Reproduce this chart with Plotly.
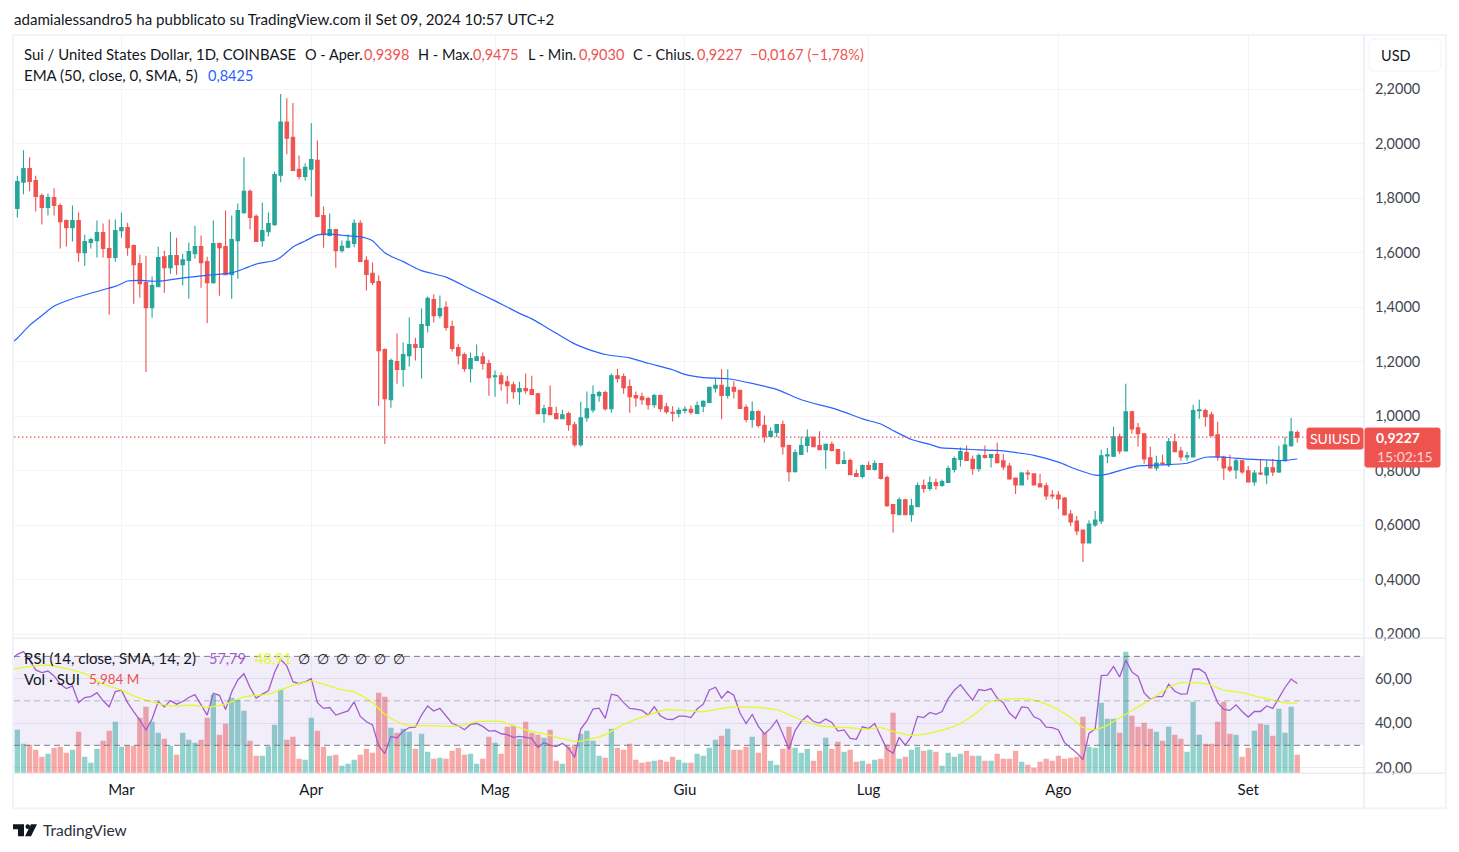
import pandas as pd
import plotly.graph_objects as go

# page is 1459x852, browser body keeps its 8px margin
W, H = 1443, 832
STRETCH = 1.005  # the photographed page comes out a touch short
FONT = "Lato"
GREEN, RED = "#26a69a", "#ef5350"
TEXT = "#131722"

start = pd.Timestamp("2024-02-13")
dates = pd.date_range(start, "2024-09-09")
x_left, x_right = "2024-02-12 10:52", "2024-09-19 21:36"

opens = [
    1.762, 1.859, 1.909, 1.865, 1.810, 1.766, 1.802, 1.773, 1.718, 1.692,
    1.718, 1.600, 1.637, 1.644, 1.674, 1.615, 1.582, 1.681, 1.692, 1.626,
    1.560, 1.490, 1.398, 1.475, 1.585, 1.545, 1.589, 1.556, 1.571, 1.596,
    1.622, 1.567, 1.490, 1.633, 1.622, 1.519, 1.644, 1.747, 1.825, 1.733,
    1.644, 1.677, 1.703, 1.884, 2.079, 2.023, 1.906, 1.880, 1.906, 1.939,
    1.736, 1.663, 1.685, 1.607, 1.620, 1.634, 1.708, 1.572, 1.524, 1.494,
    1.244, 1.060, 1.200, 1.171, 1.222, 1.263, 1.252, 1.333, 1.428, 1.369,
    1.399, 1.329, 1.252, 1.226, 1.174, 1.204, 1.218, 1.193, 1.145, 1.148,
    1.126, 1.115, 1.090, 1.101, 1.097, 1.082, 1.009, 1.031, 1.009, 0.990,
    1.009, 0.968, 0.895, 0.994, 1.023, 1.075, 1.086, 1.027, 1.148, 1.145,
    1.108, 1.075, 1.071, 1.064, 1.042, 1.075, 1.034, 1.014, 1.010, 1.021,
    1.025, 1.010, 1.036, 1.050, 1.102, 1.113, 1.076, 1.106, 1.095, 1.032,
    0.988, 1.017, 0.966, 0.925, 0.940, 0.969, 0.892, 0.796, 0.859, 0.892,
    0.922, 0.892, 0.877, 0.896, 0.877, 0.826, 0.837, 0.789, 0.778, 0.818,
    0.804, 0.826, 0.774, 0.675, 0.638, 0.693, 0.638, 0.667, 0.745, 0.734,
    0.756, 0.745, 0.756, 0.804, 0.841, 0.866, 0.841, 0.807, 0.855, 0.848,
    0.859, 0.836, 0.817, 0.773, 0.747, 0.791, 0.788, 0.751, 0.744, 0.710,
    0.710, 0.699, 0.640, 0.615, 0.582, 0.534, 0.600, 0.615, 0.854, 0.853,
    0.924, 0.872, 1.016, 0.957, 0.935, 0.847, 0.810, 0.828, 0.821, 0.906,
    0.872, 0.850, 0.850, 1.020, 1.020, 1.005, 0.931, 0.850, 0.813, 0.802,
    0.836, 0.799, 0.758, 0.791, 0.784, 0.810, 0.795, 0.836, 0.891, 0.9398,
]
highs = [
    1.882, 1.976, 1.950, 1.882, 1.817, 1.817, 1.836, 1.780, 1.722, 1.773,
    1.747, 1.666, 1.655, 1.718, 1.707, 1.722, 1.722, 1.747, 1.710, 1.630,
    1.593, 1.589, 1.512, 1.622, 1.607, 1.677, 1.655, 1.596, 1.637, 1.699,
    1.663, 1.585, 1.718, 1.637, 1.755, 1.736, 1.780, 1.950, 1.832, 1.740,
    1.784, 1.747, 1.898, 2.182, 2.167, 2.149, 1.957, 1.928, 2.075, 2.012,
    1.769, 1.744, 1.685, 1.645, 1.667, 1.723, 1.719, 1.587, 1.564, 1.517,
    1.248, 1.211, 1.303, 1.270, 1.362, 1.288, 1.395, 1.439, 1.447, 1.443,
    1.421, 1.351, 1.266, 1.233, 1.233, 1.263, 1.233, 1.207, 1.167, 1.160,
    1.148, 1.126, 1.126, 1.156, 1.148, 1.086, 1.042, 1.112, 1.034, 1.023,
    1.016, 0.979, 1.053, 1.090, 1.112, 1.093, 1.093, 1.156, 1.174, 1.156,
    1.134, 1.090, 1.086, 1.071, 1.082, 1.079, 1.049, 1.036, 1.032, 1.036,
    1.039, 1.054, 1.058, 1.106, 1.139, 1.172, 1.172, 1.128, 1.095, 1.043,
    1.054, 1.021, 1.002, 0.958, 0.969, 0.984, 0.896, 0.877, 0.925, 0.951,
    0.925, 0.944, 0.899, 0.907, 0.877, 0.870, 0.844, 0.804, 0.822, 0.833,
    0.837, 0.826, 0.782, 0.675, 0.701, 0.697, 0.697, 0.756, 0.767, 0.778,
    0.771, 0.767, 0.818, 0.852, 0.885, 0.892, 0.855, 0.863, 0.892, 0.859,
    0.903, 0.861, 0.828, 0.773, 0.795, 0.802, 0.788, 0.788, 0.755, 0.729,
    0.725, 0.703, 0.655, 0.633, 0.582, 0.618, 0.652, 0.876, 0.883, 0.961,
    0.935, 1.119, 1.020, 0.975, 0.935, 0.887, 0.854, 0.858, 0.920, 0.935,
    0.887, 0.869, 1.042, 1.060, 1.027, 1.016, 0.979, 0.854, 0.858, 0.843,
    0.839, 0.817, 0.802, 0.839, 0.836, 0.843, 0.891, 0.924, 0.994, 0.9475,
]
lows = [
    1.729, 1.814, 1.825, 1.751, 1.703, 1.736, 1.736, 1.615, 1.622, 1.641,
    1.567, 1.552, 1.615, 1.582, 1.582, 1.372, 1.567, 1.655, 1.589, 1.412,
    1.434, 1.162, 1.361, 1.475, 1.453, 1.523, 1.519, 1.479, 1.431, 1.578,
    1.471, 1.342, 1.486, 1.442, 1.519, 1.431, 1.504, 1.744, 1.685, 1.641,
    1.622, 1.659, 1.699, 1.858, 1.961, 1.902, 1.869, 1.865, 1.806, 1.729,
    1.618, 1.659, 1.545, 1.601, 1.616, 1.620, 1.568, 1.461, 1.480, 1.038,
    0.898, 1.031, 1.119, 1.108, 1.182, 1.204, 1.138, 1.307, 1.344, 1.358,
    1.314, 1.237, 1.189, 1.163, 1.123, 1.204, 1.171, 1.075, 1.071, 1.093,
    1.045, 1.064, 1.042, 1.082, 1.079, 1.009, 0.976, 1.005, 0.990, 0.990,
    0.946, 0.887, 0.887, 0.979, 1.012, 1.053, 1.020, 1.012, 1.123, 1.082,
    1.012, 1.034, 1.042, 1.023, 1.031, 1.016, 1.009, 0.980, 0.995, 1.010,
    1.006, 1.010, 1.014, 1.047, 1.087, 0.988, 1.065, 1.065, 1.028, 0.977,
    0.958, 0.958, 0.903, 0.925, 0.922, 0.859, 0.760, 0.793, 0.859, 0.866,
    0.888, 0.877, 0.807, 0.870, 0.822, 0.826, 0.785, 0.778, 0.771, 0.804,
    0.800, 0.767, 0.667, 0.572, 0.638, 0.638, 0.612, 0.667, 0.719, 0.726,
    0.730, 0.741, 0.756, 0.793, 0.815, 0.837, 0.785, 0.796, 0.844, 0.811,
    0.826, 0.802, 0.766, 0.714, 0.747, 0.766, 0.747, 0.740, 0.692, 0.696,
    0.659, 0.637, 0.596, 0.563, 0.464, 0.534, 0.593, 0.604, 0.828, 0.850,
    0.861, 0.872, 0.935, 0.887, 0.825, 0.810, 0.799, 0.821, 0.813, 0.869,
    0.836, 0.836, 0.850, 0.990, 0.961, 0.928, 0.836, 0.766, 0.795, 0.769,
    0.788, 0.758, 0.744, 0.784, 0.751, 0.780, 0.791, 0.832, 0.887, 0.9030,
]
closes = [
    1.861, 1.909, 1.861, 1.806, 1.766, 1.802, 1.773, 1.714, 1.692, 1.718,
    1.600, 1.641, 1.648, 1.674, 1.615, 1.582, 1.681, 1.692, 1.618, 1.556,
    1.486, 1.398, 1.479, 1.582, 1.545, 1.589, 1.556, 1.574, 1.604, 1.622,
    1.563, 1.490, 1.633, 1.618, 1.519, 1.648, 1.755, 1.825, 1.729, 1.641,
    1.681, 1.707, 1.887, 2.079, 2.020, 1.902, 1.880, 1.913, 1.942, 1.733,
    1.666, 1.685, 1.607, 1.623, 1.642, 1.708, 1.568, 1.520, 1.491, 1.240,
    1.064, 1.204, 1.171, 1.226, 1.263, 1.252, 1.336, 1.432, 1.369, 1.395,
    1.325, 1.248, 1.222, 1.174, 1.211, 1.218, 1.193, 1.141, 1.148, 1.119,
    1.112, 1.090, 1.101, 1.093, 1.079, 1.009, 1.027, 1.005, 0.990, 1.005,
    0.968, 0.895, 0.994, 1.027, 1.079, 1.086, 1.027, 1.148, 1.138, 1.104,
    1.071, 1.067, 1.060, 1.042, 1.075, 1.027, 1.016, 1.011, 1.021, 1.025,
    1.014, 1.039, 1.054, 1.106, 1.113, 1.076, 1.106, 1.091, 1.028, 0.988,
    1.017, 0.966, 0.925, 0.944, 0.969, 0.888, 0.796, 0.866, 0.892, 0.922,
    0.888, 0.877, 0.896, 0.874, 0.826, 0.837, 0.785, 0.778, 0.818, 0.804,
    0.826, 0.771, 0.671, 0.642, 0.693, 0.638, 0.671, 0.745, 0.734, 0.756,
    0.745, 0.760, 0.807, 0.844, 0.870, 0.837, 0.807, 0.855, 0.848, 0.859,
    0.829, 0.813, 0.769, 0.747, 0.791, 0.788, 0.747, 0.740, 0.707, 0.707,
    0.696, 0.637, 0.611, 0.578, 0.534, 0.604, 0.618, 0.854, 0.858, 0.924,
    0.872, 1.016, 0.953, 0.935, 0.843, 0.810, 0.828, 0.825, 0.906, 0.869,
    0.850, 0.854, 1.020, 1.023, 0.998, 0.928, 0.850, 0.810, 0.802, 0.836,
    0.795, 0.758, 0.791, 0.788, 0.810, 0.795, 0.836, 0.894, 0.942, 0.9227,
]
# volume in millions
volumes = [
    14.14, 9.57, 9.25, 7.62, 5.33, 6.31, 8.27, 8.60, 6.64, 7.62,
    13.49, 5.33, 3.37, 7.94, 10.55, 13.82, 16.76, 8.60, 8.92, 8.92,
    18.06, 21.65, 16.76, 13.16, 11.21, 8.92, 5.98, 13.16, 10.88, 9.90,
    10.88, 18.06, 25.57, 12.51, 16.10, 24.59, 23.94, 20.35, 10.55, 5.66,
    5.66, 8.81, 15.78, 27.20, 10.88, 11.86, 4.68, 4.35, 18.06, 13.82,
    8.60, 5.66, 5.98, 2.39, 3.05, 4.35, 5.98, 7.94, 6.64, 26.22,
    24.92, 14.80, 13.16, 14.47, 13.49, 7.94, 12.84, 6.96, 4.68, 5.00,
    4.68, 7.29, 8.27, 5.98, 6.31, 3.05, 4.68, 11.86, 9.90, 6.31,
    15.12, 15.45, 11.21, 16.76, 13.16, 12.51, 11.53, 14.14, 4.03, 3.05,
    8.60, 9.25, 12.84, 13.82, 10.55, 5.66, 5.00, 14.47, 8.27, 7.62,
    9.57, 4.35, 3.37, 3.70, 4.03, 4.35, 3.70, 5.33, 4.35, 3.37,
    3.37, 6.31, 5.66, 8.27, 10.88, 12.19, 14.47, 7.62, 7.62, 8.60,
    11.86, 6.64, 13.16, 4.03, 2.72, 7.94, 15.12, 8.27, 6.64, 7.94,
    4.03, 7.29, 11.53, 7.94, 10.23, 6.96, 7.62, 3.70, 4.03, 3.05,
    4.35, 4.68, 9.25, 19.69, 4.68, 5.33, 7.62, 8.60, 7.29, 7.62,
    6.96, 2.39, 6.64, 5.33, 6.31, 7.29, 5.66, 5.66, 4.03, 4.03,
    6.31, 4.68, 4.68, 7.29, 3.70, 2.72, 1.74, 3.70, 4.68, 4.03,
    5.66, 4.68, 5.00, 5.33, 18.39, 8.60, 8.27, 22.96, 17.73, 17.73,
    13.16, 39.60, 18.71, 15.12, 16.43, 14.47, 13.49, 10.55, 15.12, 12.51,
    11.21, 6.96, 23.28, 12.51, 9.57, 9.57, 16.76, 23.28, 12.84, 12.51,
    5.33, 8.27, 13.82, 16.10, 15.78, 12.19, 21.00, 13.16, 21.65, 5.984,
]
rsi = [
    70.9, 72.1, 68.3, 63.9, 62.7, 63.4, 61.2, 57.5, 55.5, 56.7,
    49.2, 51.5, 51.9, 53.7, 50.0, 47.3, 54.2, 54.8, 49.2, 45.1,
    41.3, 36.9, 41.8, 49.7, 47.3, 50.1, 48.5, 49.7, 51.5, 52.8,
    48.2, 43.6, 53.4, 52.5, 46.1, 54.0, 59.4, 62.2, 56.0, 51.2,
    53.0, 54.5, 62.7, 68.6, 65.7, 58.6, 57.7, 58.6, 60.0, 49.2,
    46.6, 47.0, 43.6, 44.5, 45.5, 49.5, 43.0, 40.6, 39.2, 29.8,
    26.3, 34.0, 33.3, 36.3, 38.0, 38.2, 43.6, 47.7, 45.4, 46.6,
    43.0, 39.8, 38.8, 37.0, 39.4, 39.8, 38.5, 36.4, 36.6, 35.2,
    34.8, 33.6, 34.0, 33.6, 33.1, 29.1, 31.2, 30.1, 29.4, 30.9,
    28.8, 24.6, 37.3, 41.0, 46.3, 46.7, 42.1, 53.0, 52.4, 49.2,
    46.6, 46.3, 45.7, 43.6, 47.4, 43.3, 41.8, 41.6, 43.1, 43.1,
    42.5, 46.3, 48.5, 54.9, 56.1, 51.2, 54.3, 52.5, 44.5, 39.8,
    43.9, 38.5, 35.1, 37.6, 41.3, 35.1, 28.2, 36.6, 40.7, 43.3,
    40.7, 40.0, 41.8, 40.3, 36.4, 36.9, 33.1, 32.7, 38.3, 37.6,
    39.8, 34.0, 28.2, 26.4, 33.6, 30.1, 34.0, 43.0, 42.5, 44.8,
    43.9, 45.2, 51.0, 54.8, 57.3, 53.7, 50.3, 55.1, 54.6, 55.5,
    51.2, 49.2, 44.5, 42.1, 47.3, 47.0, 42.8, 41.6, 38.2, 38.0,
    36.9, 31.2, 29.1, 26.6, 23.6, 35.5, 37.3, 61.3, 61.6, 65.5,
    60.7, 68.3, 63.0, 61.0, 53.6, 50.7, 51.9, 51.9, 57.5, 54.3,
    53.0, 53.1, 64.2, 64.3, 62.4, 56.0, 49.2, 46.1, 45.7, 48.2,
    45.2, 42.7, 45.2, 45.2, 47.7, 46.6, 51.5, 56.0, 59.8, 57.79,
]
rsi_first = 68.6  # value on the day before the first candle, cut by the left edge

# EMA and the RSI average are read at the bends of the lines (days from first candle)
ema_day = [
    -1, 0, 2, 4, 6, 9, 14, 16, 18, 20, 23, 26, 29, 32, 35, 37, 39, 42, 43, 45,
    47, 49, 51, 53, 56, 57, 58, 59, 60, 61, 63, 66, 70, 74, 78, 82, 84, 86, 88, 91,
    93, 96, 100, 103, 107, 109, 112, 116, 120, 124, 128, 134, 138, 141, 143, 146, 149, 151, 154, 157,
    160, 164, 166, 170, 173, 176, 178, 180, 183, 187, 191, 194, 197, 201, 205, 207, 209,
]
ema_val = [
    1.267, 1.286, 1.333, 1.369, 1.404, 1.431, 1.464, 1.476, 1.496, 1.498,
    1.495, 1.504, 1.512, 1.519, 1.526, 1.541, 1.558, 1.571, 1.583, 1.621,
    1.643, 1.665, 1.668, 1.664, 1.658, 1.653, 1.644, 1.621, 1.600, 1.587,
    1.567, 1.534, 1.510, 1.466, 1.423, 1.377, 1.357, 1.331, 1.304, 1.265,
    1.247, 1.226, 1.214, 1.194, 1.170, 1.153, 1.141, 1.137, 1.120, 1.098,
    1.060, 1.023, 0.990, 0.971, 0.947, 0.914, 0.896, 0.883, 0.880, 0.876,
    0.874, 0.863, 0.856, 0.831, 0.804, 0.783, 0.787, 0.800, 0.817, 0.821,
    0.827, 0.849, 0.849, 0.842, 0.838, 0.837, 0.8425,
]
rsi_ma_day = [
    -1, 2, 5, 8, 11, 14, 17, 19, 22, 25, 29, 31, 34, 37, 41, 45, 48, 53, 55, 58,
    60, 62, 64, 67, 72, 75, 77, 79, 83, 86, 91, 93, 96, 99, 103, 106, 109, 112, 116, 118,
    121, 124, 127, 131, 136, 139, 141, 143, 146, 149, 153, 156, 159, 161, 165, 168, 170, 172, 174, 176,
    178, 181, 183, 186, 188, 190, 194, 197, 200, 203, 205, 207, 209,
]
rsi_ma_val = [
    64.2, 65.4, 66.0, 64.5, 62.2, 57.5, 54.8, 52.2, 49.5, 47.7,
    48.0, 47.0, 48.5, 51.8, 53.0, 57.0, 58.9, 54.9, 54.0, 49.2,
    44.0, 40.7, 38.8, 38.9, 38.6, 40.6, 40.9, 40.7, 37.0, 35.1,
    31.8, 32.5, 34.8, 39.4, 43.6, 46.0, 45.7, 45.1, 47.0, 47.3,
    47.0, 46.0, 42.5, 38.8, 37.9, 37.3, 38.0, 36.3, 34.5, 35.5,
    38.5, 43.3, 49.8, 50.7, 50.9, 48.5, 46.0, 42.5, 38.0, 37.0,
    39.1, 44.0, 47.3, 52.2, 56.0, 58.2, 57.7, 54.8, 53.7, 51.5,
    50.4, 49.2, 48.91,
]

price_ticks = [0.2, 0.4, 0.6, 0.8, 1.0, 1.2, 1.4, 1.6, 1.8, 2.0, 2.2]
rsi_ticks = [20, 40, 60]
month_ticks = ["2024-03-01", "2024-04-01", "2024-05-01", "2024-06-01", "2024-07-01", "2024-08-01", "2024-09-01"]
month_labels = ["Mar", "Apr", "Mag", "Giu", "Lug", "Ago", "Set"]
last_close = 0.9227


def fx(x):
    return (x - 8) / W


def fy(y):
    return 1 - (y - 8) * STRETCH / H


def day_dates(days):
    return [start + pd.Timedelta(days=d) for d in days]


def round_rect(x0, y0, x1, y1, r, color, fill):
    # rounded box in page pixels
    pts = [
        f"M {fx(x0 + r)} {fy(y0)}", f"L {fx(x1 - r)} {fy(y0)}", f"Q {fx(x1)} {fy(y0)} {fx(x1)} {fy(y0 + r)}",
        f"L {fx(x1)} {fy(y1 - r)}", f"Q {fx(x1)} {fy(y1)} {fx(x1 - r)} {fy(y1)}",
        f"L {fx(x0 + r)} {fy(y1)}", f"Q {fx(x0)} {fy(y1)} {fx(x0)} {fy(y1 - r)}",
        f"L {fx(x0)} {fy(y0 + r)}", f"Q {fx(x0)} {fy(y0)} {fx(x0 + r)} {fy(y0)} Z",
    ]
    return dict(type="path", xref="paper", yref="paper", path=" ".join(pts),
                line=dict(color=color, width=1), fillcolor=fill, layer="above")


def poly(points, fill):
    path = "M " + " L ".join(f"{fx(a)} {fy(b)}" for a, b in points) + " Z"
    return dict(type="path", xref="paper", yref="paper", path=path, line=dict(width=0), fillcolor=fill, layer="above")


def label(x, y, text, color=TEXT, size=14.5, anchor="left", bold=False):
    return dict(x=fx(x), y=fy(y), xref="paper", yref="paper", text=f"<b>{text}</b>" if bold else text,
                showarrow=False, xanchor=anchor, yanchor="middle", xshift=0,
                font=dict(family=FONT, size=size, color=color), borderpad=0, bgcolor="rgba(0,0,0,0)")


fig = go.Figure()

fig.add_trace(go.Candlestick(
    x=dates, open=opens, high=highs, low=lows, close=closes, xaxis="x", yaxis="y",
    increasing=dict(line=dict(color=GREEN, width=1.1), fillcolor=GREEN),
    decreasing=dict(line=dict(color=RED, width=1.1), fillcolor=RED),
    whiskerwidth=0,
))
fig.add_trace(go.Scatter(x=day_dates(ema_day), y=ema_val, mode="lines", xaxis="x", yaxis="y",
                         line=dict(color="#2962ff", width=1.2, shape="spline", smoothing=0.6)))

vol_colors = ["rgba(38,166,154,0.5)" if c >= o else "rgba(239,83,80,0.5)" for o, c in zip(opens, closes)]
fig.add_trace(go.Bar(x=dates, y=volumes, marker=dict(color=vol_colors, line=dict(width=0)), xaxis="x", yaxis="y2"))

# RSI band sits on top of the volume bars
fig.add_trace(go.Scatter(x=[x_left, x_right, x_right, x_left], y=[30, 30, 70, 70], mode="lines", fill="toself",
                         fillcolor="rgba(126,87,194,0.1)", line=dict(width=0), xaxis="x", yaxis="y3"))
fig.add_trace(go.Scatter(x=day_dates([-1]) + list(dates), y=[rsi_first] + rsi, mode="lines", xaxis="x", yaxis="y3",
                         line=dict(color="#a25bd1", width=1.3)))
fig.add_trace(go.Scatter(x=day_dates(rsi_ma_day), y=rsi_ma_val, mode="lines", xaxis="x", yaxis="y3",
                         line=dict(color="#e3f92b", width=1.3, shape="spline", smoothing=0.6)))

grid = "#f2f4f9"
border = "#e0e3eb"
shapes = [
    # RSI levels
    dict(type="line", xref="paper", yref="y3", x0=fx(14), x1=fx(1364), y0=70, y1=70,
         line=dict(color="#787b86", width=1, dash="6px,4px")),
    dict(type="line", xref="paper", yref="y3", x0=fx(14), x1=fx(1364), y0=50, y1=50,
         line=dict(color="rgba(120,123,134,0.5)", width=1, dash="6px,4px")),
    dict(type="line", xref="paper", yref="y3", x0=fx(14), x1=fx(1364), y0=30, y1=30,
         line=dict(color="#787b86", width=1, dash="6px,4px")),
    # last price line
    dict(type="line", xref="paper", yref="y", x0=fx(14), x1=fx(1364), y0=last_close, y1=last_close,
         line=dict(color=RED, width=1.2, dash="1.5px,2.5px")),
    # separators and outer frame
    dict(type="line", xref="paper", yref="paper", x0=fx(14), x1=fx(1446), y0=fy(638), y1=fy(638),
         line=dict(color=border, width=1), layer="above"),
    dict(type="line", xref="paper", yref="paper", x0=fx(14), x1=fx(1446), y0=fy(773), y1=fy(773),
         line=dict(color=border, width=1), layer="above"),
    dict(type="line", xref="paper", yref="paper", x0=fx(1364), x1=fx(1364), y0=fy(35), y1=fy(808),
         line=dict(color=border, width=1), layer="above"),
    dict(type="rect", xref="paper", yref="paper", x0=fx(13), x1=fx(1446), y0=fy(35), y1=fy(808),
         line=dict(color="#f0f3fa", width=2), layer="above"),
    # USD box and the price tags
    round_rect(1369, 39, 1441, 71, 6, "#f0f3fa", "#ffffff"),
    round_rect(1307, 428, 1363, 449, 2, RED, RED),
    round_rect(1365, 428, 1440, 467, 2, RED, RED),
    # TradingView mark
    poly([(13, 824), (24, 824), (24, 836), (18, 836), (18, 829), (13, 829)], TEXT),
    poly([(31, 824), (37, 824), (31, 836), (25, 836)], TEXT),
    dict(type="circle", xref="paper", yref="paper", x0=fx(25.5), x1=fx(30), y0=fy(824.2), y1=fy(828.8),
         line=dict(width=0), fillcolor=TEXT, layer="above"),
]

annotations = [
    label(13, 19, "adamialessandro5 ha pubblicato su TradingView.com il Set 09, 2024 10:57 UTC+2", size=15.1),
    label(23, 54, "Sui / United States Dollar, 1D, COINBASE", size=14.9),
    label(304, 54, "O - Aper."), label(363, 54, "0,9398", RED),
    label(417, 54, "H - Max."), label(472, 54, "0,9475", RED),
    label(527, 54, "L - Min."), label(578, 54, "0,9030", RED),
    label(632, 54, "C - Chius."), label(696, 54, "0,9227", RED),
    label(749, 54, "−0,0167 (−1,78%)", RED),
    label(23, 75, "EMA (50, close, 0, SMA, 5)", size=15), label(207, 75, "0,8425", "#2962ff"),
    label(23, 658, "RSI (14, close, SMA, 14, 2)", size=15),
    label(208, 658, "57,79", "#a25bd1"), label(254, 658, "48,91", "#e3f92b"),
    label(23, 679, "Vol · SUI", size=15), label(88, 679, "5,984 M", RED, 13.5),
    label(1380, 55, "USD"),
    label(1335, 438, "SUIUSD", "#ffffff", 14, "center"),
    label(1398, 437, "0,9227", "#ffffff", 14, "center", True),
    label(1405, 456, "15:02:15", "rgba(255,255,255,0.75)", 14, "center"),
    label(42, 830, "TradingView", "#2a2e39", 15.5),
]
for cx in [304, 323, 342, 361, 380, 399]:
    annotations.append(label(cx, 658, "∅", TEXT, 14, "center"))

fig.update_layout(
    width=W, height=H, autosize=False,
    margin=dict(l=0, r=0, t=0, b=0),
    paper_bgcolor="white", plot_bgcolor="white",
    showlegend=False, separators=",.", bargap=0.13, boxgap=0.2,
    font=dict(family=FONT, size=14, color=TEXT),
    xaxis=dict(
        domain=[fx(14), fx(1364)], anchor="y2", type="date", range=[x_left, x_right],
        tickmode="array", tickvals=month_ticks, ticktext=month_labels,
        showgrid=True, gridcolor=grid, gridwidth=1, rangeslider=dict(visible=False),
        ticks="outside", ticklen=3, tickcolor="rgba(0,0,0,0)", showline=False, zeroline=False,
        tickfont=dict(family=FONT, size=15, color=TEXT),
    ),
    yaxis=dict(
        domain=[fy(638), fy(35)], anchor="x", side="right", range=[0.185, 2.399],
        tickmode="array", tickvals=price_ticks, tickformat=".4f",
        showgrid=True, gridcolor=grid, zeroline=False, showline=False,
        ticks="outside", ticklen=7, tickcolor="rgba(0,0,0,0)",
        tickfont=dict(family=FONT, size=14.5, color="#434651"),
    ),
    yaxis2=dict(domain=[fy(773), fy(638)], anchor="x", range=[0, 44.06], visible=False, showgrid=False, zeroline=False),
    yaxis3=dict(
        overlaying="y2", anchor="x", side="right", range=[17.5, 78.2],
        tickmode="array", tickvals=rsi_ticks, tickformat=".2f",
        showgrid=True, gridcolor="#ebe8f2", zeroline=False, showline=False,
        ticks="outside", ticklen=7, tickcolor="rgba(0,0,0,0)",
        tickfont=dict(family=FONT, size=14.5, color="#434651"),
    ),
    shapes=shapes,
    annotations=annotations,
)

fig.write_html("out.html")
